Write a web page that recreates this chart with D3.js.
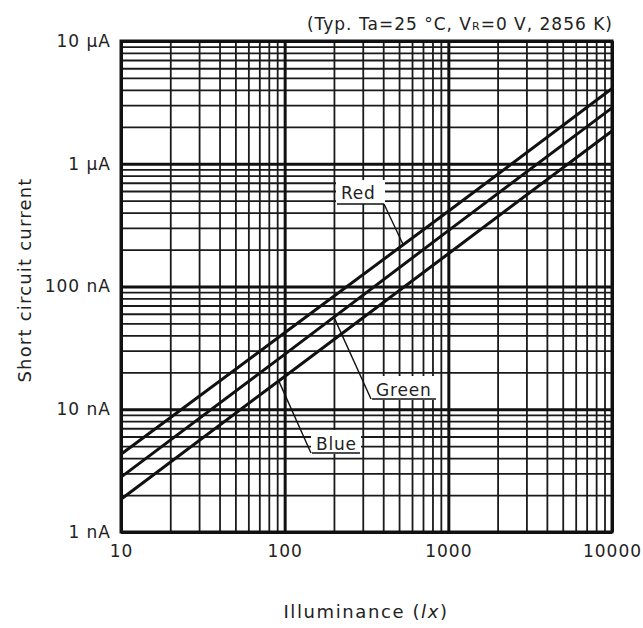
<!DOCTYPE html>
<html>
<head>
<meta charset="utf-8">
<script src="https://cdn.jsdelivr.net/npm/d3@7"></script>
<style>
  body { margin: 0; background: #fff; }
  text { font-family: "DejaVu Sans", Verdana, sans-serif; fill: #222; }
</style>
</head>
<body>
<div id="chart"></div>
<script>
// values (A vs lx)
var illuminance = [10, 100, 1000, 10000];
var redCurrent = [4.3e-9, 4.2e-8, 4.1e-7, 4.1e-6];
var greenCurrent = [2.8e-9, 2.8e-8, 2.85e-7, 2.85e-6];
var blueCurrent = [1.85e-9, 1.85e-8, 1.85e-7, 1.85e-6];
var seriesNames = ["Red", "Green", "Blue"];

var xTickValues = [10, 100, 1000, 10000];
var xTickLabels = ["10", "100", "1000", "10000"];
var yTickValues = [1e-9, 1e-8, 1e-7, 1e-6, 1e-5];
var yTickLabels = ["1 nA", "10 nA", "100 nA", "1 µA", "10 µA"];

var svg_width = 643, svg_height = 628;
var margin = {left: 121, top: 41, right: 31, bottom: 96};
var w = svg_width - margin.left - margin.right,
    h = svg_height - margin.top - margin.bottom;

var svg = d3.select("#chart").append("svg")
    .attr("width", svg_width)
    .attr("height", svg_height);
var g = svg.append("g")
    .attr("transform", "translate(" + margin.left + "," + margin.top + ")");

var x = d3.scaleLog().domain([10, 10000]).range([0, w]);
var y = d3.scaleLog().domain([1e-9, 1e-5]).range([h, 0]);

function isDecade(d) {
    var l = Math.log10(d);
    return Math.abs(l - Math.round(l)) < 1e-6;
}

// minor grid, then major grid on top
var xMinor = x.ticks().filter(d => !isDecade(d));
var yMinor = y.ticks().filter(d => !isDecade(d));

g.append("g")
    .attr("class", "grid")
    .attr("transform", "translate(0," + h + ")")
    .call(d3.axisBottom(x).tickValues(xMinor).tickSize(-h).tickFormat(""));
g.append("g")
    .attr("class", "grid")
    .call(d3.axisLeft(y).tickValues(yMinor).tickSize(-w).tickFormat(""));
g.selectAll(".grid line").attr("stroke", "#1a1a1a").attr("stroke-width", 1.8);

g.append("g")
    .attr("class", "major")
    .attr("transform", "translate(0," + h + ")")
    .call(d3.axisBottom(x).tickValues(xTickValues).tickSize(-h).tickFormat(""));
g.append("g")
    .attr("class", "major")
    .call(d3.axisLeft(y).tickValues(yTickValues).tickSize(-w).tickFormat(""));
g.selectAll(".major line").attr("stroke", "#111").attr("stroke-width", 3);
g.selectAll(".grid .domain, .major .domain").remove();

g.append("rect")
    .attr("width", w).attr("height", h)
    .attr("fill", "none")
    .attr("stroke", "#111")
    .attr("stroke-width", 3);

// tick labels
var xAxis = g.append("g")
    .attr("transform", "translate(0," + h + ")")
    .call(d3.axisBottom(x).tickValues(xTickValues).tickSize(0).tickPadding(13)
        .tickFormat((d, i) => xTickLabels[i]));
var yAxis = g.append("g")
    .call(d3.axisLeft(y).tickValues(yTickValues).tickSize(0).tickPadding(10)
        .tickFormat((d, i) => yTickLabels[i]));
xAxis.select(".domain").remove();
yAxis.select(".domain").remove();
svg.selectAll(".tick text")
    .style("font-family", "'DejaVu Sans', Verdana, sans-serif")
    .style("font-size", "17px")
    .style("letter-spacing", "1px")
    .attr("fill", "#222");

// interpolate along a series in log-log space
function valueAt(series, lux) {
    var i = Math.min(Math.max(d3.bisectLeft(illuminance, lux), 1), illuminance.length - 1);
    var t = (Math.log(lux) - Math.log(illuminance[i - 1])) /
            (Math.log(illuminance[i]) - Math.log(illuminance[i - 1]));
    return Math.exp(Math.log(series[i - 1]) + t * (Math.log(series[i]) - Math.log(series[i - 1])));
}

var series = [redCurrent, greenCurrent, blueCurrent];

// label boxes: text pos, box, and the lux where the leader meets the line
var labels = [
    {tx: 341, ty: 199, bx: 336, by: 180, bw: 49, lx: 384, ly: 204, lux: 530},
    {tx: 376, ty: 396, bx: 371, by: 376, bw: 66, lx: 371, ly: 399, lux: 200},
    {tx: 316, ty: 450, bx: 311, by: 430, bw: 50, lx: 311, ly: 453, lux: 92}
];

labels.forEach(function(d, i) {
    svg.append("rect")
        .attr("x", d.bx).attr("y", d.by)
        .attr("width", d.bw).attr("height", 24)
        .attr("fill", "#fff");
    svg.append("text")
        .attr("x", d.tx).attr("y", d.ty)
        .style("font-size", "17px")
        .style("letter-spacing", "0.8px")
        .text(seriesNames[i]);
    svg.append("line")
        .attr("x1", d.bx + 1).attr("x2", d.bx + d.bw - 1)
        .attr("y1", d.ly).attr("y2", d.ly)
        .attr("stroke", "#111").attr("stroke-width", 1.4);
    svg.append("line")
        .attr("x1", d.lx).attr("y1", d.ly)
        .attr("x2", margin.left + x(d.lux))
        .attr("y2", margin.top + y(valueAt(series[i], d.lux)))
        .attr("stroke", "#111").attr("stroke-width", 1.4);
});

// the three curves
var line = d3.line()
    .x(d => x(d[0]))
    .y(d => y(d[1]));

g.selectAll(".curve")
    .data(series)
    .join("path")
    .attr("class", "curve")
    .attr("d", s => line(illuminance.map((lux, i) => [lux, s[i]])))
    .attr("fill", "none")
    .attr("stroke", "#111")
    .attr("stroke-width", 3);

// condition note
var note = svg.append("text")
    .attr("x", margin.left + w + 1)
    .attr("y", 30)
    .attr("text-anchor", "end")
    .style("font-size", "17px")
    .style("letter-spacing", "1px");
note.append("tspan").text("(Typ. Ta=25 °C, V");
note.append("tspan").style("font-size", "11px").text("R");
note.append("tspan").text("=0 V, 2856 K)");

// axis titles
var xTitle = svg.append("text")
    .attr("x", 366)
    .attr("y", 618)
    .attr("text-anchor", "middle")
    .style("font-size", "18px")
    .style("letter-spacing", "1.6px");
xTitle.append("tspan").text("Illuminance (");
xTitle.append("tspan").style("font-style", "italic").text("lx");
xTitle.append("tspan").text(")");

svg.append("text")
    .attr("transform", "translate(31,280) rotate(-90)")
    .attr("text-anchor", "middle")
    .style("font-size", "18px")
    .style("letter-spacing", "1.2px")
    .text("Short circuit current");
</script>
</body>
</html>
